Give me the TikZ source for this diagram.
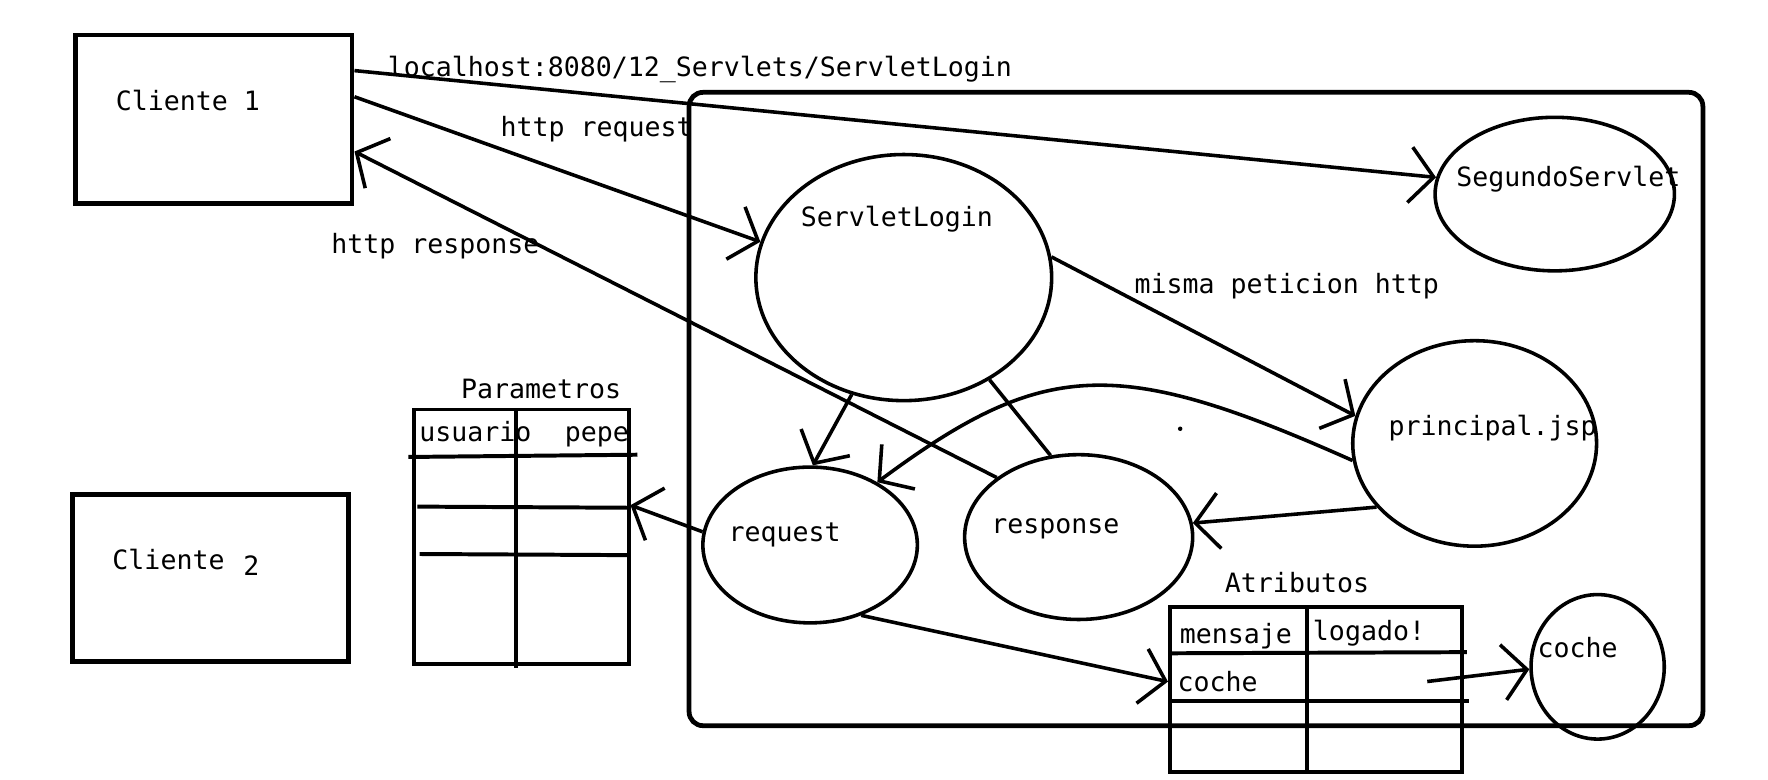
\documentclass[tikz,border=0pt]{standalone}
\usepackage{fontspec}
\setmonofont{DejaVu Sans Mono}
\usetikzlibrary{shapes.geometric, arrows.meta, positioning}

\begin{document}
\begin{tikzpicture}[x=0.01cm, y=-0.01cm,
            box/.style={draw, rectangle, line width=1.2pt, inner sep=0pt},
            oval/.style={draw, ellipse, line width=0.9pt, inner sep=0pt},
            txt/.style={anchor=base west, inner sep=0pt, font=\ttfamily\fontsize{6.7}{8}\selectfont},
            arr/.style={-{Straight Barb[length=6pt, width=14pt]}, line width=0.9pt},
            grid/.style={line width=1pt}]
            \useasboundingbox (0,0) rectangle (1567,691.3);

            % clientes y servidor
            \node[box, minimum width=2.45cm, minimum height=1.49cm] (cli1) at (189.5,105.5) {};
            \node[box, minimum width=2.45cm, minimum height=1.48cm] (cli2) at (186.5,512) {};
            \node[box, rounded corners=3.5pt, minimum width=8.98cm, minimum height=5.61cm] (server) at (1060,362.5) {};

            % servlets y objetos
            \node[oval, minimum width=2.62cm, minimum height=2.18cm] (login) at (801,246) {};
            \node[oval, minimum width=2.12cm, minimum height=1.36cm] (segundo) at (1378,172) {};
            \node[oval, minimum width=2.16cm, minimum height=1.82cm] (principal) at (1307,393) {};
            \node[oval, minimum width=1.90cm, minimum height=1.38cm] (request) at (718,483) {};
            \node[oval, minimum width=2.02cm, minimum height=1.46cm] (response) at (956,476) {};
            \node[oval, minimum width=1.18cm, minimum height=1.28cm] (coche) at (1416,591) {};

            % tablas
            \node[box, line width=1pt, minimum width=1.90cm, minimum height=2.25cm] (params) at (462,475.5) {};
            \draw[grid] (457,363) -- (457,592);
            \draw[grid] (362,405) -- (565,403);
            \draw[grid] (370,449) -- (557,450);
            \draw[grid] (372,491) -- (557,492);
            \node[box, line width=1pt, minimum width=2.59cm, minimum height=1.46cm] (attrs) at (1166.5,611) {};
            \draw[grid] (1158,538) -- (1158,684);
            \draw[grid] (1037,579) -- (1300,578);
            \draw[grid] (1037,621) -- (1302,621);

            % textos
            \node[txt] (tcli1) at (102,98) {Cliente 1};
            \node[txt] (tcli2) at (99,505) {Cliente};
            \node[txt] (tcli2n) at (215,510) {2};
            \node[txt] (turl) at (343,68) {localhost:8080/12\_Servlets/ServletLogin};
            \node[txt] (treq) at (443,121) {http request};
            \node[txt] (tresp) at (293,225) {http response};
            \node[txt] (tlogin) at (709,201) {ServletLogin};
            \node[txt] (tsegundo) at (1290,165) {SegundoServlet};
            \node[txt] (tmisma) at (1005,260) {misma peticion http};
            \node[txt] (tprincipal) at (1230,386) {principal.jsp};
            \node[txt] (tparams) at (408,353) {Parametros};
            \node[txt] (tusuario) at (371,391) {usuario};
            \node[txt] (tpepe) at (500,391) {pepe};
            \node[txt] (trequest) at (645,480) {request};
            \node[txt] (tresponse) at (878,473) {response};
            \node[txt] (tattrs) at (1085,525) {Atributos};
            \node[txt] (tmensaje) at (1045,570) {mensaje};
            \node[txt] (tlogado) at (1163,568) {logado!};
            \node[txt] (tcochecell) at (1043,613) {coche};
            \node[txt] (tcoche) at (1362,583) {coche};
            \fill (1046,380) circle (2);

            % flechas
            \coordinate (cochecell) at (1265,604);
            \draw[arr] (cli1.19) -- (segundo.172);
            \draw[arr] (cli1.9) -- (login.166);
            \draw[arr] (response.144) -- (cli1.-13);
            \draw[arr] (login.8) -- (principal.167);
            \draw[arr] (login.246) -- (request.88);
            \draw[line width=0.9pt] (login.-50) -- (response.109);
            \draw[arr] (request.173) -- (params.16);
            \draw[arr] (principal.188) .. controls (990,315) and (925,318) .. (request.43);
            \draw[arr] (principal.213) -- (response.7);
            \draw[arr] (request.-54) -- (attrs.177);
            \draw[arr] (cochecell) -- (coche.182);
\end{tikzpicture}
\end{document}
